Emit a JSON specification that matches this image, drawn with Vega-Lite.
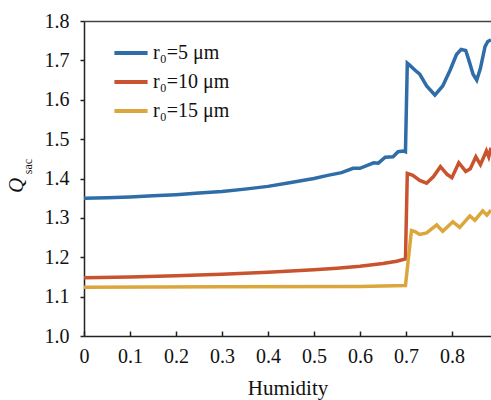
{
  "$schema": "https://vega.github.io/schema/vega-lite/v6.json",
  "width": 407,
  "height": 315,
  "autosize": "none",
  "padding": {"left": 84, "top": 21, "right": 0, "bottom": 64},
  "config": {
    "view": {"stroke": null},
    "font": "Liberation Serif",
    "axis": {"domainColor": "#222", "domainWidth": 1.5, "tickColor": "#222", "tickWidth": 1.5, "grid": false, "labelColor": "#111", "titleColor": "#111", "titleFontWeight": "normal"}
  },
  "datasets": {
    "curves": [
      {"h": 0, "Q": 1.350, "s": "r₀=5 μm"},
      {"h": 0.05, "Q": 1.351, "s": "r₀=5 μm"},
      {"h": 0.1, "Q": 1.353, "s": "r₀=5 μm"},
      {"h": 0.15, "Q": 1.356, "s": "r₀=5 μm"},
      {"h": 0.2, "Q": 1.359, "s": "r₀=5 μm"},
      {"h": 0.25, "Q": 1.363, "s": "r₀=5 μm"},
      {"h": 0.3, "Q": 1.367, "s": "r₀=5 μm"},
      {"h": 0.35, "Q": 1.373, "s": "r₀=5 μm"},
      {"h": 0.4, "Q": 1.380, "s": "r₀=5 μm"},
      {"h": 0.45, "Q": 1.390, "s": "r₀=5 μm"},
      {"h": 0.5, "Q": 1.400, "s": "r₀=5 μm"},
      {"h": 0.53, "Q": 1.408, "s": "r₀=5 μm"},
      {"h": 0.56, "Q": 1.415, "s": "r₀=5 μm"},
      {"h": 0.585, "Q": 1.426, "s": "r₀=5 μm"},
      {"h": 0.6, "Q": 1.426, "s": "r₀=5 μm"},
      {"h": 0.63, "Q": 1.440, "s": "r₀=5 μm"},
      {"h": 0.64, "Q": 1.439, "s": "r₀=5 μm"},
      {"h": 0.655, "Q": 1.454, "s": "r₀=5 μm"},
      {"h": 0.672, "Q": 1.455, "s": "r₀=5 μm"},
      {"h": 0.683, "Q": 1.468, "s": "r₀=5 μm"},
      {"h": 0.694, "Q": 1.470, "s": "r₀=5 μm"},
      {"h": 0.699, "Q": 1.468, "s": "r₀=5 μm"},
      {"h": 0.703, "Q": 1.693, "s": "r₀=5 μm"},
      {"h": 0.708, "Q": 1.688, "s": "r₀=5 μm"},
      {"h": 0.72, "Q": 1.675, "s": "r₀=5 μm"},
      {"h": 0.73, "Q": 1.665, "s": "r₀=5 μm"},
      {"h": 0.745, "Q": 1.635, "s": "r₀=5 μm"},
      {"h": 0.763, "Q": 1.612, "s": "r₀=5 μm"},
      {"h": 0.78, "Q": 1.635, "s": "r₀=5 μm"},
      {"h": 0.796, "Q": 1.675, "s": "r₀=5 μm"},
      {"h": 0.81, "Q": 1.715, "s": "r₀=5 μm"},
      {"h": 0.82, "Q": 1.728, "s": "r₀=5 μm"},
      {"h": 0.83, "Q": 1.725, "s": "r₀=5 μm"},
      {"h": 0.837, "Q": 1.700, "s": "r₀=5 μm"},
      {"h": 0.846, "Q": 1.665, "s": "r₀=5 μm"},
      {"h": 0.854, "Q": 1.650, "s": "r₀=5 μm"},
      {"h": 0.862, "Q": 1.680, "s": "r₀=5 μm"},
      {"h": 0.872, "Q": 1.735, "s": "r₀=5 μm"},
      {"h": 0.878, "Q": 1.748, "s": "r₀=5 μm"},
      {"h": 0.885, "Q": 1.752, "s": "r₀=5 μm"},
      {"h": 0, "Q": 1.148, "s": "r₀=10 μm"},
      {"h": 0.1, "Q": 1.150, "s": "r₀=10 μm"},
      {"h": 0.2, "Q": 1.153, "s": "r₀=10 μm"},
      {"h": 0.3, "Q": 1.157, "s": "r₀=10 μm"},
      {"h": 0.4, "Q": 1.162, "s": "r₀=10 μm"},
      {"h": 0.5, "Q": 1.168, "s": "r₀=10 μm"},
      {"h": 0.55, "Q": 1.172, "s": "r₀=10 μm"},
      {"h": 0.6, "Q": 1.177, "s": "r₀=10 μm"},
      {"h": 0.65, "Q": 1.184, "s": "r₀=10 μm"},
      {"h": 0.68, "Q": 1.190, "s": "r₀=10 μm"},
      {"h": 0.699, "Q": 1.196, "s": "r₀=10 μm"},
      {"h": 0.703, "Q": 1.413, "s": "r₀=10 μm"},
      {"h": 0.715, "Q": 1.408, "s": "r₀=10 μm"},
      {"h": 0.73, "Q": 1.395, "s": "r₀=10 μm"},
      {"h": 0.745, "Q": 1.388, "s": "r₀=10 μm"},
      {"h": 0.76, "Q": 1.405, "s": "r₀=10 μm"},
      {"h": 0.775, "Q": 1.430, "s": "r₀=10 μm"},
      {"h": 0.79, "Q": 1.410, "s": "r₀=10 μm"},
      {"h": 0.8, "Q": 1.402, "s": "r₀=10 μm"},
      {"h": 0.815, "Q": 1.440, "s": "r₀=10 μm"},
      {"h": 0.83, "Q": 1.418, "s": "r₀=10 μm"},
      {"h": 0.84, "Q": 1.425, "s": "r₀=10 μm"},
      {"h": 0.852, "Q": 1.455, "s": "r₀=10 μm"},
      {"h": 0.862, "Q": 1.435, "s": "r₀=10 μm"},
      {"h": 0.875, "Q": 1.470, "s": "r₀=10 μm"},
      {"h": 0.88, "Q": 1.455, "s": "r₀=10 μm"},
      {"h": 0.885, "Q": 1.478, "s": "r₀=10 μm"},
      {"h": 0, "Q": 1.124, "s": "r₀=15 μm"},
      {"h": 0.3, "Q": 1.125, "s": "r₀=15 μm"},
      {"h": 0.6, "Q": 1.126, "s": "r₀=15 μm"},
      {"h": 0.699, "Q": 1.128, "s": "r₀=15 μm"},
      {"h": 0.712, "Q": 1.268, "s": "r₀=15 μm"},
      {"h": 0.72, "Q": 1.265, "s": "r₀=15 μm"},
      {"h": 0.73, "Q": 1.258, "s": "r₀=15 μm"},
      {"h": 0.745, "Q": 1.262, "s": "r₀=15 μm"},
      {"h": 0.767, "Q": 1.282, "s": "r₀=15 μm"},
      {"h": 0.78, "Q": 1.266, "s": "r₀=15 μm"},
      {"h": 0.802, "Q": 1.290, "s": "r₀=15 μm"},
      {"h": 0.817, "Q": 1.276, "s": "r₀=15 μm"},
      {"h": 0.839, "Q": 1.305, "s": "r₀=15 μm"},
      {"h": 0.85, "Q": 1.294, "s": "r₀=15 μm"},
      {"h": 0.867, "Q": 1.318, "s": "r₀=15 μm"},
      {"h": 0.876, "Q": 1.307, "s": "r₀=15 μm"},
      {"h": 0.885, "Q": 1.320, "s": "r₀=15 μm"}
    ]
  },
  "data": {"name": "curves"},
  "layer": [
    {
      "mark": {"type": "line", "strokeWidth": 3.5, "clip": true},
      "encoding": {
        "x": {"field": "h", "type": "quantitative", "scale": {"domain": [0, 0.885], "nice": false, "zero": false},
          "axis": {"values": [0, 0.1, 0.2, 0.3, 0.4, 0.5, 0.6, 0.7, 0.8], "labelExpr": "datum.value == 0 ? '0' : format(datum.value, '.1f')", "tickSize": -5, "labelPadding": 15, "labelFont": "Liberation Serif", "labelFontSize": 20, "title": "Humidity", "titleFont": "Liberation Serif", "titleFontSize": 21, "titlePadding": 11, "labelFlush": false}},
        "y": {"field": "Q", "type": "quantitative", "scale": {"domain": [1.0, 1.8], "nice": false, "zero": false},
          "axis": {"values": [1.0, 1.1, 1.2, 1.3, 1.4, 1.5, 1.6, 1.7, 1.8], "format": ".1f", "tickSize": 4, "labelPadding": 11, "labelFont": "Liberation Serif", "labelFontSize": 20, "title": "Q", "titleFont": "Liberation Serif", "titleFontStyle": "italic", "titleFontSize": 21, "titleX": -62, "titleY": 164, "titleAngle": -90, "titleAlign": "center", "titleBaseline": "alphabetic"}},
        "color": {"field": "s", "type": "nominal", "sort": ["r₀=5 μm", "r₀=10 μm", "r₀=15 μm"],
          "scale": {"domain": ["r₀=5 μm", "r₀=10 μm", "r₀=15 μm"], "range": ["#2f6da8", "#c9532f", "#dba73c"]},
          "legend": {"title": null, "orient": "none", "legendX": 28, "legendY": 13, "symbolType": "stroke", "symbolSize": 1100, "symbolStrokeWidth": 4, "labelFont": "Liberation Serif", "labelFontSize": 20, "labelColor": "#111", "labelOffset": 3, "rowPadding": -2}},
        "order": {"field": "h"}
      }
    },
    {
      "mark": {"type": "point", "opacity": 0},
      "encoding": {
        "x": {"field": "h", "type": "quantitative", "axis": {"orient": "top", "labels": false, "ticks": false, "title": null, "domainColor": "#444"}},
        "y": {"field": "Q", "type": "quantitative", "axis": {"orient": "left", "labels": false, "ticks": false, "domain": false, "title": "sac", "titleFont": "Liberation Serif", "titleFontSize": 12, "titleX": -53, "titleY": 145, "titleAngle": -90, "titleAlign": "center", "titleBaseline": "alphabetic"}}
      }
    }
  ],
  "resolve": {"axis": {"x": "independent", "y": "independent"}}
}
